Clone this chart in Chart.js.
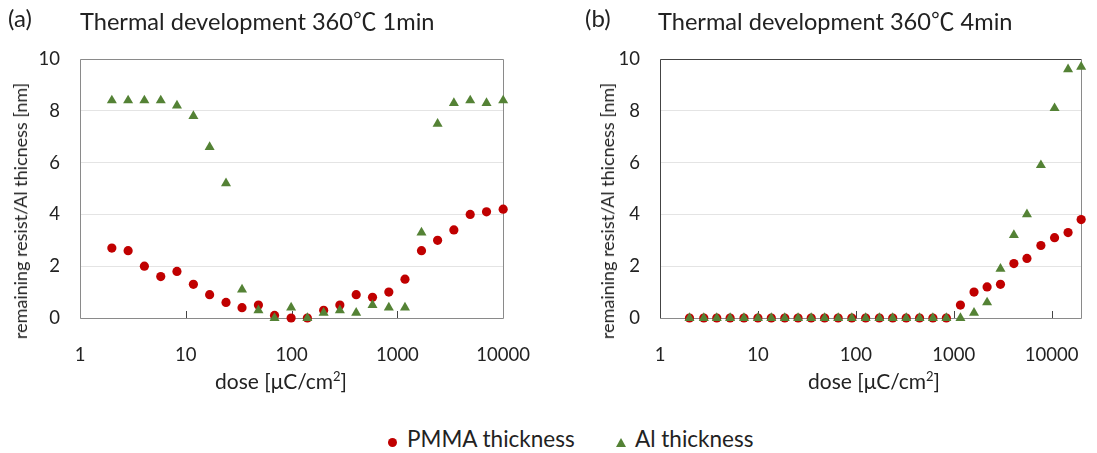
<!DOCTYPE html>
<html>
<head>
<meta charset="utf-8">
<script src="https://cdn.jsdelivr.net/npm/chart.js@4"></script>
<style>
  body { margin: 0; background: #fff; font-family: Lato, "Noto Sans CJK JP", sans-serif; color: #222; }
  #wrap { position: relative; width: 1097px; height: 453px; overflow: hidden; }
  canvas { position: absolute; top: 0; }
  .lbl { position: absolute; white-space: nowrap; }
  .ytitle { position: absolute; white-space: nowrap; font-size: 18px; transform: translate(-50%, -50%) rotate(-90deg); }
  .xtitle { position: absolute; white-space: nowrap; font-size: 21px; transform: translate(-50%, -50%); }
  .dot { display: inline-block; width: 9px; height: 9px; border-radius: 50%; background: #c00000; }
  .tri { display: inline-block; width: 0; height: 0; border-left: 5px solid transparent; border-right: 5px solid transparent; border-bottom: 9px solid #548235; }
</style>
</head>
<body>
<div id="wrap">
  <canvas id="chartA" width="548" height="410" style="left:0"></canvas>
  <canvas id="chartB" width="549" height="410" style="left:548px"></canvas>

  <div class="lbl" style="left:8px; top:3px; font-size:24px;">(a)</div>
  <div class="lbl" style="left:80px; top:3px; font-size:23.6px;">Thermal development 360℃ 1min</div>
  <div class="lbl" style="left:585px; top:3px; font-size:24px;">(b)</div>
  <div class="lbl" style="left:658px; top:3px; font-size:23.6px;">Thermal development 360℃ 4min</div>

  <div class="ytitle" style="left:20px; top:211px;">remaining resist/Al thicness [nm]</div>
  <div class="ytitle" style="left:607px; top:211px;">remaining resist/Al thicness [nm]</div>
  <div class="xtitle" style="left:281px; top:380px;">dose [μC/cm<sup style="font-size:13px">2</sup>]</div>
  <div class="xtitle" style="left:874px; top:380px;">dose [μC/cm<sup style="font-size:13px">2</sup>]</div>

  <div class="lbl" style="left:388px; top:425px; font-size:22px;"><span class="dot"></span></div>
  <div class="lbl" style="left:407px; top:425px; font-size:22.5px;">PMMA thickness</div>
  <div class="lbl" style="left:616px; top:425px; font-size:22px;"><span class="tri"></span></div>
  <div class="lbl" style="left:635px; top:425px; font-size:22.5px;">Al thickness</div>
</div>

<script>
// (a) 360C 1min
const doseA = [2, 2.85, 4.06, 5.8, 8.25, 11.8, 16.8, 24, 34, 48.6, 69, 99, 141, 201, 286, 408, 582, 830, 1180, 1690, 2400, 3420, 4880, 6960, 10000];
const pmmaA = [2.7, 2.6, 2.0, 1.6, 1.8, 1.3, 0.9, 0.6, 0.4, 0.5, 0.1, 0, 0, 0.3, 0.5, 0.9, 0.8, 1.0, 1.5, 2.6, 3.0, 3.4, 4.0, 4.1, 4.2];
const alA = [8.4, 8.4, 8.4, 8.4, 8.2, 7.8, 6.6, 5.2, 1.1, 0.3, 0, 0.4, 0, 0.2, 0.3, 0.2, 0.5, 0.4, 0.4, 3.3, 7.5, 8.3, 8.4, 8.3, 8.4];

// (b) 360C 4min
const doseB = [2, 2.8, 3.8, 5.2, 7.2, 10, 13.7, 18.8, 25.7, 35, 48, 66, 91, 126, 174, 238, 327, 447, 612, 840, 1170, 1610, 2190, 3000, 4110, 5590, 7760, 10700, 14700, 20000];
const pmmaB = [0, 0, 0, 0, 0, 0, 0, 0, 0, 0, 0, 0, 0, 0, 0, 0, 0, 0, 0, 0, 0.5, 1.0, 1.2, 1.3, 2.1, 2.3, 2.8, 3.1, 3.3, 3.8];
const alB = [0, 0, 0, 0, 0, 0, 0, 0, 0, 0, 0, 0, 0, 0, 0, 0, 0, 0, 0, 0, 0, 0.2, 0.6, 1.9, 3.2, 4.0, 5.9, 8.1, 9.6, 9.7];

const xTicks = [1, 10, 100, 1000, 10000];
const yTicks = [0, 2, 4, 6, 8, 10];

const RED = '#c00000';
const GREEN = '#548235';

function pts(xs, ys) {
    return xs.map((x, i) => ({ x: x, y: ys[i] }));
}

// plot frame + inside tick marks on the x axis
const framePlugin = {
    id: 'frame',
    beforeDatasetsDraw(chart, args, opts) {
        const a = chart.chartArea;
        const ctx = chart.ctx;
        const xs = chart.scales.x;
        ctx.save();
        ctx.lineWidth = 1;
        ctx.strokeStyle = opts.tickColor;
        xs.ticks.forEach(t => {
            const px = Math.round(xs.getPixelForValue(t.value)) + 0.5;
            if (px <= a.left + 1 || px >= a.right - 1) return;
            ctx.beginPath();
            ctx.moveTo(px, a.bottom);
            ctx.lineTo(px, a.bottom - 7);
            ctx.stroke();
        });
        const l = Math.round(a.left) + 0.5, r = Math.round(a.right) + 0.5;
        const t = Math.round(a.top) + 0.5, b = Math.round(a.bottom) + 0.5;
        ctx.strokeStyle = opts.sideColor;
        ctx.beginPath();
        ctx.moveTo(l, b); ctx.lineTo(l, t); ctx.lineTo(r, t);
        ctx.stroke();
        ctx.strokeStyle = opts.color;
        ctx.beginPath();
        ctx.moveTo(r, t); ctx.lineTo(r, b); ctx.lineTo(l, b);
        ctx.stroke();
        ctx.restore();
    }
};

function makeChart(id, dose, pmma, al, xMax, yAxisWidth, padRight, sideColor) {
    return new Chart(document.getElementById(id), {
        type: 'scatter',
        data: {
            datasets: [
                {
                    label: 'PMMA thickness',
                    data: pts(dose, pmma),
                    pointStyle: 'circle',
                    pointRadius: 4.6,
                    pointBackgroundColor: RED,
                    pointBorderWidth: 0,
                    order: 1
                },
                {
                    label: 'Al thickness',
                    data: pts(dose, al),
                    pointStyle: 'triangle',
                    pointRadius: 5.8,
                    pointBackgroundColor: GREEN,
                    pointBorderWidth: 0,
                    order: 0
                }
            ]
        },
        options: {
            responsive: false,
            animation: false,
            devicePixelRatio: 1,
            clip: false,
            layout: { padding: { left: 0, top: 59, right: padRight, bottom: 0 } },
            plugins: {
                legend: { display: false },
                tooltip: { enabled: false },
                frame: { color: '#8a8a8a', sideColor: sideColor, tickColor: '#444' }
            },
            scales: {
                x: {
                    type: 'logarithmic',
                    min: 1,
                    max: xMax,
                    afterBuildTicks: s => { s.ticks = xTicks.map(v => ({ value: v })); },
                    afterFit: s => { s.height = 92; },
                    grid: { display: false },
                    border: { display: false },
                    ticks: {
                        color: '#222',
                        font: { family: 'Lato', size: 18.5 },
                        padding: 18,
                        maxRotation: 0,
                        callback: v => String(v)
                    }
                },
                y: {
                    min: 0,
                    max: 10,
                    afterBuildTicks: s => { s.ticks = yTicks.map(v => ({ value: v })); },
                    afterFit: s => { s.width = yAxisWidth; },
                    grid: { color: '#e4e4e4', lineWidth: 1, drawTicks: false },
                    border: { display: false },
                    ticks: {
                        color: '#222',
                        font: { family: 'Lato', size: 18.5 },
                        padding: 20
                    }
                }
            }
        },
        plugins: [framePlugin]
    });
}

makeChart('chartA', doseA, pmmaA, alA, 10000, 80, 38, '#8a8a8a');
makeChart('chartB', doseB, pmmaB, alB, 20000, 112, 7, '#444');
</script>
</body>
</html>
